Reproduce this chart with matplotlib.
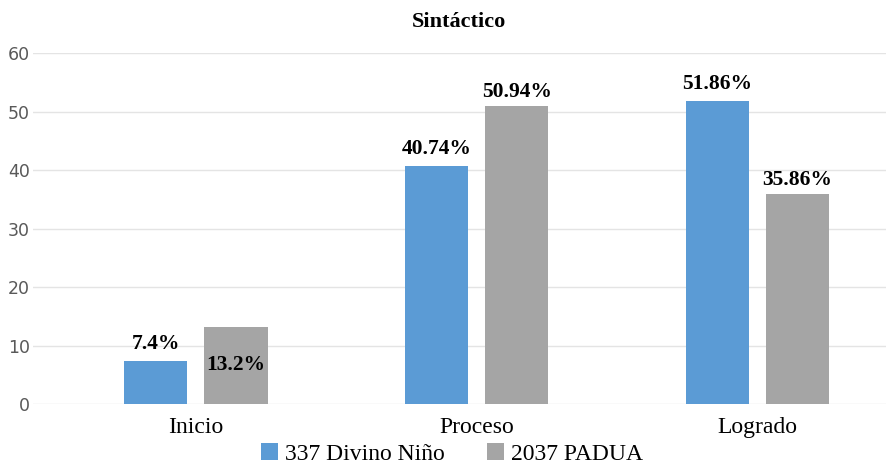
import numpy as np
import matplotlib.pyplot as plt

categories = ['Inicio', 'Proceso', 'Logrado']
divino = [7.4, 40.74, 51.86]
padua = [13.2, 50.94, 35.86]
divino_labels = ['7.4%', '40.74%', '51.86%']
padua_labels = ['13.2%', '50.94%', '35.86%']

blue = '#5B9BD5'
gray = '#A5A5A5'
serif = ['Liberation Serif', 'DejaVu Serif']

fig = plt.figure(figsize=(8.86, 4.66), dpi=100)
ax = fig.add_axes([0.037, 0.133, 0.963, 0.753])

x = np.arange(len(categories))
w = 0.225
off = 0.143
b1 = ax.bar(x - off, divino, w, color=blue, label='337 Divino Niño')
b2 = ax.bar(x + off, padua, w, color=gray, label='2037 PADUA')

# etiquetas de datos
for xi, v, t in zip(x - off, divino, divino_labels):
    ax.annotate(t, (xi, v), xytext=(0, 5), textcoords='offset points',
                ha='center', va='bottom', fontsize=15.5, fontweight='bold',
                family=serif, color='black')
for i, (xi, v, t) in enumerate(zip(x + off, padua, padua_labels)):
    if i == 0:
        # esta etiqueta queda dentro de la barra en el original
        ax.text(xi, v / 2, t, ha='center', va='center', fontsize=15.5,
                fontweight='bold', family=serif, color='black')
    else:
        ax.annotate(t, (xi, v), xytext=(0, 3), textcoords='offset points',
                    ha='center', va='bottom', fontsize=15.5, fontweight='bold',
                    family=serif, color='black')

ax.set_ylim(0, 60)
ax.set_yticks(range(0, 61, 10))
ax.set_xlim(-0.581, 2.458)
ax.set_xticks(x)
ax.set_xticklabels(categories, family=serif, fontsize=17)
ax.tick_params(axis='x', length=0, pad=9)
ax.tick_params(axis='y', length=0, labelsize=12.5, labelcolor='#595959', pad=2)
for s in ax.spines.values():
    s.set_visible(False)
ax.grid(axis='y', color='#E4E4E4', linewidth=1)
ax.set_axisbelow(True)

fig.text(0.518, 0.952, 'Sintáctico', ha='center', va='center',
         fontsize=16, fontweight='bold', family=serif)

leg = fig.legend(handles=[b1, b2], loc='center', bbox_to_anchor=(0.51, 0.026),
                 ncol=2, frameon=False, prop={'family': serif, 'size': 17},
                 handlelength=0.7, handleheight=0.7, handletextpad=0.3,
                 columnspacing=1.8, borderaxespad=0)

fig.savefig('out.png', dpi=100)
